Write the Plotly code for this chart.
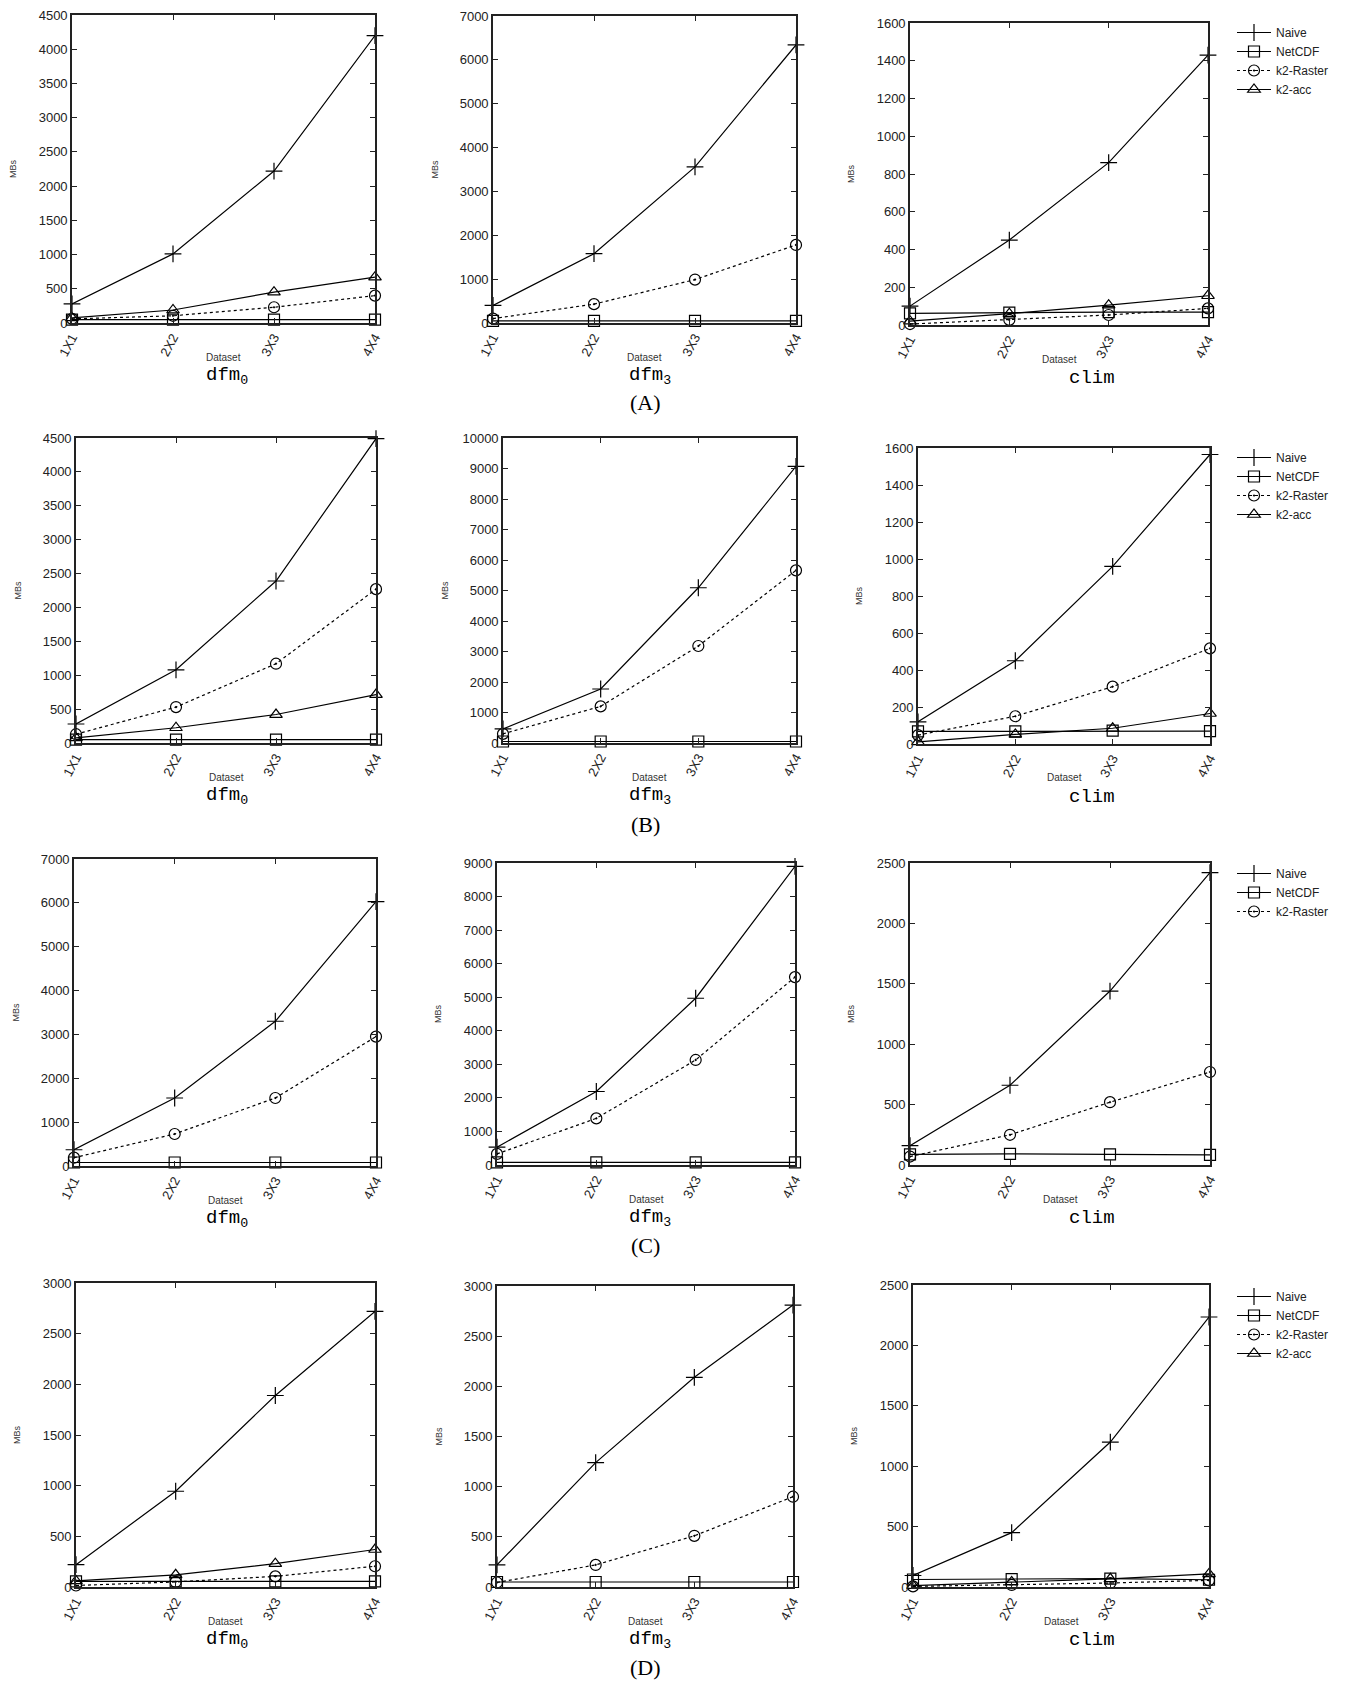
import plotly.graph_objects as go

W, H = 1349, 1686

categories = ["1X1", "2X2", "3X3", "4X4"]
series_names = ["Naive", "NetCDF", "k2-Raster", "k2-acc"]

# ---- Row (A) ----
a_dfm0_naive = [280, 1010, 2220, 4200]
a_dfm0_netcdf = [50, 50, 50, 50]
a_dfm0_k2raster = [60, 105, 230, 400]
a_dfm0_k2acc = [75, 190, 450, 670]

a_dfm3_naive = [400, 1580, 3560, 6340]
a_dfm3_netcdf = [50, 50, 50, 50]
a_dfm3_k2raster = [100, 430, 990, 1780]

a_clim_naive = [100, 450, 860, 1430]
a_clim_netcdf = [62, 66, 68, 68]
a_clim_k2raster = [5, 27, 53, 88]
a_clim_k2acc = [20, 60, 105, 155]

# ---- Row (B) ----
b_dfm0_naive = [280, 1080, 2390, 4490]
b_dfm0_netcdf = [50, 50, 50, 50]
b_dfm0_k2raster = [130, 530, 1170, 2270]
b_dfm0_k2acc = [75, 225, 420, 715]

b_dfm3_naive = [460, 1770, 5090, 9070]
b_dfm3_netcdf = [50, 50, 50, 50]
b_dfm3_k2raster = [300, 1200, 3180, 5660]

b_clim_naive = [120, 450, 960, 1565]
b_clim_netcdf = [68, 68, 72, 70]
b_clim_k2raster = [48, 150, 310, 517]
b_clim_k2acc = [12, 52, 85, 165]

# ---- Row (C) ----
c_dfm0_naive = [370, 1550, 3300, 6030]
c_dfm0_netcdf = [80, 80, 80, 80]
c_dfm0_k2raster = [190, 730, 1550, 2950]

c_dfm3_naive = [530, 2190, 4970, 8900]
c_dfm3_netcdf = [80, 80, 80, 80]
c_dfm3_k2raster = [330, 1390, 3130, 5600]

c_clim_naive = [160, 660, 1440, 2420]
c_clim_netcdf = [88, 92, 88, 84]
c_clim_k2raster = [70, 250, 520, 770]

# ---- Row (D) ----
d_dfm0_naive = [220, 945, 1890, 2720]
d_dfm0_netcdf = [55, 55, 55, 55]
d_dfm0_k2raster = [15, 50, 105, 205]
d_dfm0_k2acc = [60, 120, 230, 370]

d_dfm3_naive = [220, 1240, 2090, 2810]
d_dfm3_netcdf = [50, 50, 50, 50]
d_dfm3_k2raster = [45, 220, 510, 900]

d_clim_naive = [95, 450, 1200, 2235]
d_clim_netcdf = [62, 66, 70, 60]
d_clim_k2raster = [5, 17, 33, 55]
d_clim_k2acc = [12, 42, 68, 108]

# y-axis tick specs per panel (row-major)
y_max = [4500, 7000, 1600, 4500, 10000, 1600, 7000, 9000, 2500, 3000, 3000, 2500]
y_dtick = [500, 1000, 200, 500, 1000, 200, 1000, 1000, 500, 500, 500, 500]

panel_titles = ["dfm<sub>0</sub>", "dfm<sub>3</sub>", "clim"]
row_labels = ["(A)", "(B)", "(C)", "(D)"]

panel_series = [
    {"Naive": a_dfm0_naive, "NetCDF": a_dfm0_netcdf, "k2-Raster": a_dfm0_k2raster, "k2-acc": a_dfm0_k2acc},
    {"Naive": a_dfm3_naive, "NetCDF": a_dfm3_netcdf, "k2-Raster": a_dfm3_k2raster},
    {"Naive": a_clim_naive, "NetCDF": a_clim_netcdf, "k2-Raster": a_clim_k2raster, "k2-acc": a_clim_k2acc},
    {"Naive": b_dfm0_naive, "NetCDF": b_dfm0_netcdf, "k2-Raster": b_dfm0_k2raster, "k2-acc": b_dfm0_k2acc},
    {"Naive": b_dfm3_naive, "NetCDF": b_dfm3_netcdf, "k2-Raster": b_dfm3_k2raster},
    {"Naive": b_clim_naive, "NetCDF": b_clim_netcdf, "k2-Raster": b_clim_k2raster, "k2-acc": b_clim_k2acc},
    {"Naive": c_dfm0_naive, "NetCDF": c_dfm0_netcdf, "k2-Raster": c_dfm0_k2raster},
    {"Naive": c_dfm3_naive, "NetCDF": c_dfm3_netcdf, "k2-Raster": c_dfm3_k2raster},
    {"Naive": c_clim_naive, "NetCDF": c_clim_netcdf, "k2-Raster": c_clim_k2raster},
    {"Naive": d_dfm0_naive, "NetCDF": d_dfm0_netcdf, "k2-Raster": d_dfm0_k2raster, "k2-acc": d_dfm0_k2acc},
    {"Naive": d_dfm3_naive, "NetCDF": d_dfm3_netcdf, "k2-Raster": d_dfm3_k2raster},
    {"Naive": d_clim_naive, "NetCDF": d_clim_netcdf, "k2-Raster": d_clim_k2raster, "k2-acc": d_clim_k2acc},
]

# ---- layout (pixel boxes: left, top, right, bottom) ----
boxes = [
    (72, 15, 375, 323), (493, 16, 796, 323), (910, 23, 1208, 325),
    (76, 438, 376, 743), (503, 438, 796, 743), (918, 448, 1210, 744),
    (74, 859, 376, 1166), (497, 863, 795, 1165), (910, 863, 1210, 1165),
    (76, 1283, 375, 1587), (497, 1286, 793, 1587), (913, 1285, 1209, 1587),
]
title_x = [227, 650, 1092]
legend_top = [18, 443, 859, 1282]
row_label_y = [402, 824, 1245, 1667]

styles = {
    "Naive": dict(symbol="cross-thin", size=12, dash="solid"),
    "NetCDF": dict(symbol="square-open", size=11, dash="solid"),
    "k2-Raster": dict(symbol="circle-open-dot", size=11, dash="dot"),
    "k2-acc": dict(symbol="triangle-up-open", size=11, dash="solid"),
}

SANS = "Liberation Sans"
MONO = "Liberation Mono"
SERIF = "Liberation Serif"

fig = go.Figure()
layout = dict(
    width=W, height=H,
    margin=dict(l=0, r=0, t=0, b=0, pad=0, autoexpand=False),
    paper_bgcolor="white", plot_bgcolor="white", showlegend=True,
)
annotations = []


def px(x):
    return x / W


def py(y):
    return 1 - y / H


for i, (series, box) in enumerate(zip(panel_series, boxes)):
    n = i + 1
    row, col = divmod(i, 3)
    xa = "xaxis" if n == 1 else f"xaxis{n}"
    ya = "yaxis" if n == 1 else f"yaxis{n}"
    xr = "x" if n == 1 else f"x{n}"
    yr = "y" if n == 1 else f"y{n}"
    leg = "legend" if row == 0 else f"legend{row + 1}"
    left, top, right, bottom = box

    for name in series_names:
        if name not in series:
            continue
        st = styles[name]
        fig.add_trace(go.Scatter(
            x=categories, y=series[name], name=name, mode="lines+markers",
            xaxis=xr, yaxis=yr, legend=leg,
            showlegend=(col == 0),
            cliponaxis=False,
            line=dict(color="black", width=1.2, dash=st["dash"]),
            marker=dict(symbol=st["symbol"], size=st["size"], color="black",
                        line=dict(color="black", width=1.2)),
        ))

    layout[xa] = dict(
        domain=[px(left), px(right)], anchor=yr, type="category",
        range=[0, len(categories) - 1], tickangle=-62, automargin=False,
        ticks="inside", ticklen=5, tickcolor="#222", tickwidth=1,
        showline=True, linecolor="#222", linewidth=1.6, mirror="ticks",
        showgrid=False, zeroline=False,
        tickfont=dict(family=SANS, size=13, color="#222"),
    )
    layout[ya] = dict(
        domain=[py(bottom), py(top)], anchor=xr, automargin=False,
        range=[0, y_max[i]], dtick=y_dtick[i], tick0=0, tickformat="d",
        ticks="inside", ticklen=5, tickcolor="#222", tickwidth=1,
        showline=True, linecolor="#222", linewidth=1.6, mirror="ticks",
        showgrid=False, zeroline=False,
        tickfont=dict(family=SANS, size=13, color="#222"),
    )

    # axis titles
    annotations.append(dict(
        text="Dataset", xref="paper", yref="paper",
        x=px((left + right) / 2), y=py(bottom + 34),
        showarrow=False, font=dict(family=SANS, size=10, color="#333"),
        xanchor="center", yanchor="middle",
    ))
    annotations.append(dict(
        text="MBs", xref="paper", yref="paper",
        x=px(left - 59), y=py((top + bottom) / 2), textangle=-90,
        showarrow=False, font=dict(family=SANS, size=9, color="#333"),
        xanchor="center", yanchor="middle",
    ))
    # panel title
    annotations.append(dict(
        text=panel_titles[col], xref="paper", yref="paper",
        x=px(title_x[col]), y=py(bottom + 53),
        showarrow=False, font=dict(family=MONO, size=19, color="black"),
        xanchor="center", yanchor="middle",
    ))

for r, lab in enumerate(row_labels):
    annotations.append(dict(
        text=lab, xref="paper", yref="paper",
        x=px(645), y=py(row_label_y[r]),
        showarrow=False, font=dict(family=SERIF, size=22, color="black"),
        xanchor="center", yanchor="middle",
    ))
    key = "legend" if r == 0 else f"legend{r + 1}"
    layout[key] = dict(
        x=px(1232), y=py(legend_top[r]), xanchor="left", yanchor="top",
        bgcolor="rgba(0,0,0,0)", borderwidth=0,
        font=dict(family=SANS, size=12, color="#222"),
        itemwidth=34, tracegroupgap=0,
    )

layout["annotations"] = annotations
fig.update_layout(**layout)
fig.write_html(
    "out.html",
    config={"displayModeBar": False},
    post_script="document.body.style.margin='0';document.body.style.overflow='hidden';",
)
